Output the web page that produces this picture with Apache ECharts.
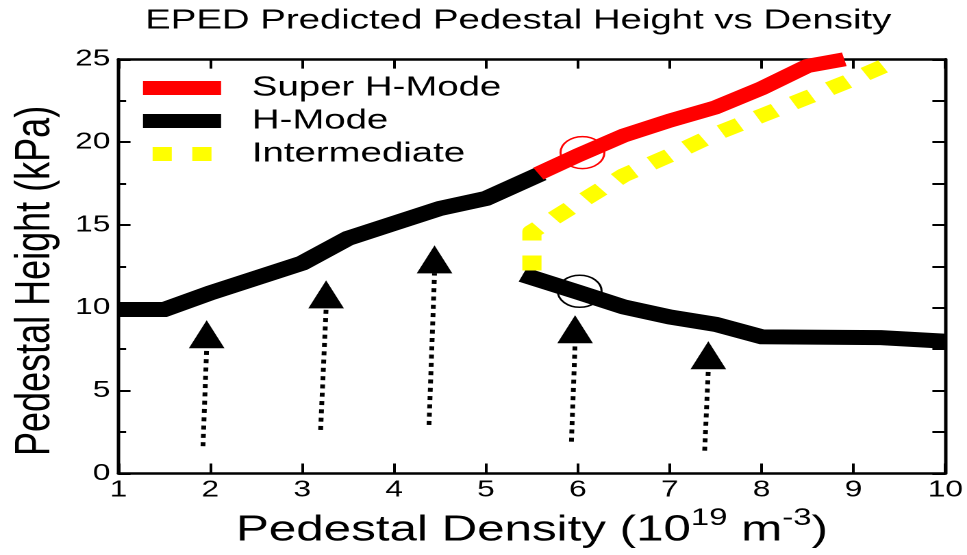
<!DOCTYPE html>
<html>
<head>
<meta charset="utf-8">
<script src="https://cdn.jsdelivr.net/npm/echarts@6/dist/echarts.min.js"></script>
<style>
html,body{margin:0;padding:0;background:#fff;overflow:hidden}
#wrap{width:967px;height:555px;overflow:hidden;position:relative}
#chart{width:706px;height:555px;transform:scaleX(1.369688);transform-origin:0 0}
</style>
</head>
<body>
<div id="wrap"><div id="chart"></div></div>
<script>
// ---- texts ----
const titleText = 'EPED Predicted Pedestal Height vs Density';
const xAxisName = '{m|Pedestal Density (10}{s|19}{m| m}{s|-3}{m|)}';
const yAxisName = 'Pedestal Height (kPa)';
const legendNames = ['Super H-Mode', 'H-Mode', 'Intermediate'];

// ---- tick values ----
const xTickValues = [1, 2, 3, 4, 5, 6, 7, 8, 9, 10];
const yTickValues = [0, 5, 10, 15, 20, 25];

// ---- data (density, pedestal height) ----
const superH = [[5.57, 18.1], [6, 19.2], [6.5, 20.4], [7, 21.3], [7.5, 22.1], [8, 23.25], [8.5, 24.6], [8.9, 25.0]];
const hModeUpper = [[1, 9.9], [1.5, 9.9], [2, 10.9], [3, 12.7], [3.5, 14.2], [4, 15.1], [4.5, 16.0], [5, 16.6], [5.6, 18.1]];
const hModeLower = [[5.4, 12.0], [6, 10.95], [6.5, 10.05], [7, 9.45], [7.5, 9.0], [8, 8.25], [9.3, 8.2], [10, 7.98]];
const intermediate = [[5.5, 12.25], [5.5, 14.6], [6, 16.3], [6.5, 18.0], [7, 19.2], [7.5, 20.5], [8, 21.6], [8.5, 22.7], [9, 23.8], [9.5, 25.0]];
const arrowTails = [[1.92, 1.65], [3.2, 2.63], [4.38, 2.93], [5.93, 1.92], [7.38, 1.38]];
const arrowHeads = [[1.96, 7.56], [3.26, 9.97], [4.44, 12.08], [5.97, 7.86], [7.42, 6.29]];
const circleRed = [[6.05, 19.37]];
const circleBlack = [[6.02, 11.0]];

const FONT = 'Liberation Sans, Arial, Helvetica, sans-serif';
const chart = echarts.init(document.getElementById('chart'), null, {renderer: 'canvas', devicePixelRatio: 2});

const arrowSeries = arrowTails.map((t, i) => ({
  type: 'line', name: 'arrow' + i, data: [t, arrowHeads[i]], symbol: 'none', silent: true, z: 2,
  lineStyle: {color: '#000', width: 3.5, type: [4, 4.3], cap: 'butt', opacity: 1}
}));

const option = {
  animation: false,
  backgroundColor: '#fff',
  title: {
    text: titleText, left: 106, top: 7, padding: 0,
    textStyle: {fontFamily: FONT, fontSize: 28, fontWeight: 'normal', color: '#000'}
  },
  legend: {
    orient: 'vertical', left: 104.4, top: 74, padding: 0, itemGap: 5,
    itemWidth: 57, itemHeight: 14, itemTextGap: 5, symbolKeepAspect: true,
    itemStyle: {borderWidth: 0},
    textStyle: {fontFamily: FONT, fontSize: 28, lineHeight: 28, color: '#000', padding: [0, 0, 0, 17.5]},
    data: [
      {name: legendNames[0], icon: 'rect'},
      {name: legendNames[1], icon: 'rect'},
      {name: legendNames[2], icon: 'path://M0,0h14v14h-14zM29,0h14v14h-14z'}
    ]
  },
  grid: {left: 85.4, right: 13.9, top: 59.3, bottom: 81.5, containLabel: false},
  xAxis: [{
    type: 'value', position: 'bottom',
    min: xTickValues[0], max: xTickValues[xTickValues.length - 1], interval: xTickValues[1] - xTickValues[0],
    name: xAxisName, nameLocation: 'middle', nameGap: 31,
    nameTextStyle: {
      fontFamily: FONT, color: '#000',
      rich: {
        m: {fontFamily: FONT, fontSize: 36, lineHeight: 42, verticalAlign: 'bottom', color: '#000'},
        s: {fontFamily: FONT, fontSize: 24, lineHeight: 24, verticalAlign: 'top', color: '#000'}
      }
    },
    axisLine: {show: true, onZero: false, lineStyle: {color: '#000', width: 2.5}},
    axisTick: {show: true, inside: true, length: 10, lineStyle: {color: '#000', width: 2}},
    axisLabel: {show: true, margin: 5, fontFamily: FONT, fontSize: 23, color: '#000'},
    splitLine: {show: false}
  }, {
    type: 'value', position: 'top',
    min: xTickValues[0], max: xTickValues[xTickValues.length - 1], interval: xTickValues[1] - xTickValues[0],
    axisLine: {show: true, onZero: false, lineStyle: {color: '#000', width: 2.5}},
    axisTick: {show: true, inside: true, length: 9.3, lineStyle: {color: '#000', width: 2}},
    axisLabel: {show: false},
    splitLine: {show: false}
  }],
  yAxis: [{
    type: 'value', position: 'left',
    min: yTickValues[0], max: yTickValues[yTickValues.length - 1], interval: yTickValues[1] - yTickValues[0],
    name: yAxisName, nameLocation: 'middle', nameGap: 40,
    nameTextStyle: {fontFamily: FONT, fontSize: 36, color: '#000', padding: [0, 29, 0, 0]},
    axisLine: {show: true, onZero: false, lineStyle: {color: '#000', width: 2.5}},
    axisTick: {show: true, inside: true, length: 8.8, lineStyle: {color: '#000', width: 2}},
    minorTick: {show: true, splitNumber: 2, length: 5.6, lineStyle: {color: '#000', width: 2}},
    axisLabel: {show: true, margin: 6, fontFamily: FONT, fontSize: 23, color: '#000'},
    splitLine: {show: false}, minorSplitLine: {show: false}
  }, {
    type: 'value', position: 'right',
    min: yTickValues[0], max: yTickValues[yTickValues.length - 1], interval: (yTickValues[1] - yTickValues[0]) / 2,
    axisLine: {show: true, onZero: false, lineStyle: {color: '#000', width: 2.5}},
    axisTick: {show: true, inside: true, length: 9.5, lineStyle: {color: '#000', width: 2}},
    axisLabel: {show: false},
    splitLine: {show: false}
  }],
  series: [
    ...arrowSeries,
    {
      type: 'scatter', name: 'arrowheads', data: arrowHeads, symbol: 'triangle', symbolSize: [26, 28],
      symbolOffset: [0, -14], itemStyle: {color: '#000', opacity: 1}, z: 3, silent: true
    },
    {
      type: 'line', name: legendNames[1], data: hModeUpper, symbol: 'none', color: '#000', z: 4,
      itemStyle: {color: '#000'}, lineStyle: {color: '#000', width: 15, cap: 'butt', join: 'miter'}
    },
    {
      type: 'line', name: legendNames[1], data: hModeLower, symbol: 'none', color: '#000', z: 4,
      itemStyle: {color: '#000'}, lineStyle: {color: '#000', width: 15, cap: 'butt', join: 'miter'}
    },
    {
      type: 'line', name: legendNames[0], data: superH, symbol: 'none', color: '#ff0000', z: 5,
      itemStyle: {color: '#ff0000'}, lineStyle: {color: '#ff0000', width: 14, cap: 'butt', join: 'round'}
    },
    {
      type: 'line', name: legendNames[2], data: intermediate, symbol: 'none', color: '#ffff00', z: 6,
      itemStyle: {color: '#ffff00'}, lineStyle: {color: '#ffff00', width: 14, type: [15, 15], cap: 'butt', join: 'round'}
    },
    {
      type: 'scatter', name: 'circleRed', data: circleRed, symbol: 'circle', symbolSize: 32, z: 7, silent: true,
      itemStyle: {color: 'rgba(0,0,0,0)', borderColor: '#ff0000', borderWidth: 1.5, opacity: 1}
    },
    {
      type: 'scatter', name: 'circleBlack', data: circleBlack, symbol: 'circle', symbolSize: 32, z: 7, silent: true,
      itemStyle: {color: 'rgba(0,0,0,0)', borderColor: '#000', borderWidth: 1.5, opacity: 1}
    }
  ]
};
chart.setOption(option);
</script>
</body>
</html>
